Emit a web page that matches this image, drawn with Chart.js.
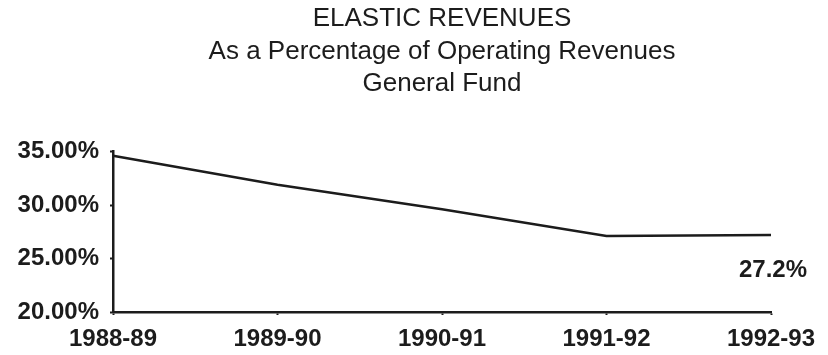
<!DOCTYPE html>
<html>
<head>
<meta charset="utf-8">
<title>Elastic Revenues</title>
<script src="https://cdn.jsdelivr.net/npm/chart.js@4.4.0/dist/chart.umd.min.js"></script>
<style>
  html, body { margin: 0; padding: 0; background: #fff; }
  #wrap { width: 828px; height: 355px; }
</style>
</head>
<body>
<div id="wrap"><canvas id="mycanvas" width="828" height="355"></canvas></div>
<script>
// fiscal years and elastic revenue share (% of operating revenues)
var years = ['1988-89', '1989-90', '1990-91', '1991-92', '1992-93'];
var elasticPct = [34.6, 31.9, 29.6, 27.1, 27.2];
var yTicks = [20, 25, 30, 35];
var lastLabel = '27.2%';

var ink = '#1c1c1c';
var fontFace = 'Arial, "Liberation Sans", sans-serif';

// writes the value under the last point
var endLabel = {
	id: 'endLabel',
	afterDatasetsDraw: function(chart){
		var meta = chart.getDatasetMeta(0);
		var pt = meta.data[meta.data.length - 1];
		var ctx = chart.ctx;
		ctx.save();
		ctx.fillStyle = ink;
		ctx.font = 'bold 24px ' + fontFace;
		ctx.textAlign = 'center';
		ctx.textBaseline = 'middle';
		ctx.fillText(lastLabel, pt.x + 2, pt.y + 35);
		ctx.restore();
	}
};

var ctx = document.getElementById('mycanvas');
var lineChart = new Chart(ctx, {
	type: 'line',
	data: {
		labels: years,
		datasets: [{
			data: elasticPct,
			borderColor: ink,
			borderWidth: 2.5,
			pointRadius: 0,
			tension: 0,
			fill: false
		}]
	},
	options: {
		responsive: false,
		animation: false,
		layout: { padding: { left: 0, right: 57, top: 0, bottom: 0 } },
		plugins: {
			legend: { display: false },
			tooltip: { enabled: false },
			title: {
				display: true,
				fullSize: false,
				text: ['ELASTIC REVENUES', 'As a Percentage of Operating Revenues', 'General Fund'],
				color: ink,
				font: { family: fontFace, size: 26, weight: 'normal', lineHeight: 1.25 },
				padding: { top: 3, bottom: 51 }
			}
		},
		scales: {
			x: {
				offset: false,
				border: { display: true, color: ink, width: 2.5 },
				grid: { drawOnChartArea: false, tickLength: 3, color: ink, tickWidth: 2 },
				ticks: {
					color: ink,
					padding: 10,
					maxRotation: 0,
					font: { family: fontFace, size: 24, weight: 'bold' }
				},
				afterFit: function(scale){ scale.height = 43; }
			},
			y: {
				min: 20,
				max: 35,
				border: { display: true, color: ink, width: 2.5 },
				grid: { drawOnChartArea: false, tickLength: 3, color: ink, tickWidth: 2 },
				afterBuildTicks: function(scale){
					scale.ticks = yTicks.map(function(v){ return { value: v }; });
				},
				ticks: {
					color: ink,
					padding: 11,
					font: { family: fontFace, size: 24, weight: 'bold' },
					callback: function(v){ return Number(v).toFixed(2) + '%'; }
				},
				afterFit: function(scale){ scale.width = 113; }
			}
		}
	},
	plugins: [endLabel]
});
</script>
</body>
</html>
